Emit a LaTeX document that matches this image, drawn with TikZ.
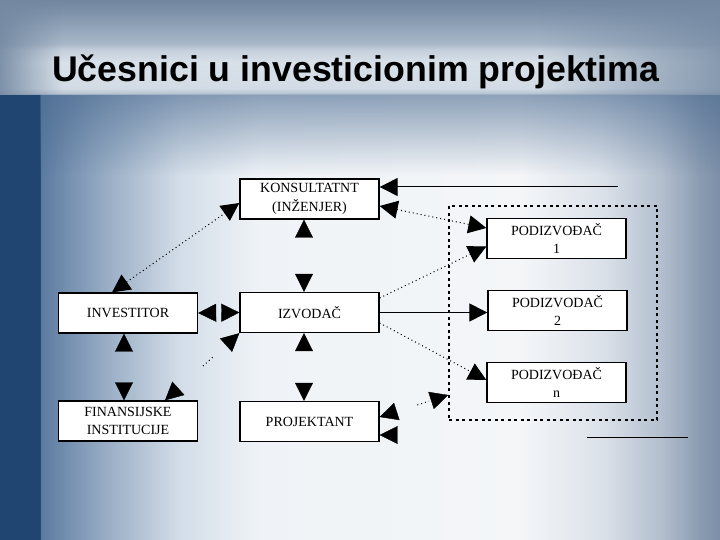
\documentclass[tikz,border=0pt]{standalone}
\usepackage{fontspec}
\setmainfont{Liberation Serif}
\newfontfamily\headfont{Liberation Sans}
\usetikzlibrary{arrows.meta,calc,fadings}
\definecolor{stripblue}{HTML}{1F4570}
\definecolor{bodyA}{HTML}{5B7AA0}
\definecolor{bodyB}{HTML}{93A9C2}
\definecolor{bodyC}{HTML}{D3DDE8}
\definecolor{bodyD}{HTML}{EFF3F7}
\definecolor{bodyE}{HTML}{F4F6F8}
\definecolor{bodyF}{HTML}{DCE2EA}
\definecolor{bodyG}{HTML}{B4C0CF}
\definecolor{bodyH}{HTML}{8A9BB1}
\definecolor{bodyI}{HTML}{7D8FA8}
\definecolor{hdA}{HTML}{8A9DB3}
\definecolor{hdB}{HTML}{B8C5D3}
\definecolor{hdC}{HTML}{D3DCE6}
\definecolor{hdD}{HTML}{D8E0E8}
\definecolor{hdE}{HTML}{C5D0DC}
\definecolor{hdF}{HTML}{A9B8C9}
\definecolor{hdG}{HTML}{93A5BA}
\definecolor{hdH}{HTML}{7E92AA}
\definecolor{hdI}{HTML}{72879F}
\definecolor{hdside}{HTML}{7489A2}
\definecolor{bandblue}{HTML}{4A6A90}
\pgfdeclarehorizontalshading{slidebody}{100bp}{color(0bp)=(stripblue); color(25bp)=(stripblue); color(27.78bp)=(stripblue); color(27.81bp)=(bodyA); color(31.94bp)=(bodyB); color(37.5bp)=(bodyC); color(43.06bp)=(bodyD); color(61.11bp)=(bodyE); color(66.67bp)=(bodyF); color(70.83bp)=(bodyG); color(73.61bp)=(bodyH); color(75bp)=(bodyI); color(100bp)=(bodyI)}
\pgfdeclareverticalshading{slidehead}{100bp}{color(0bp)=(hdA); color(25bp)=(hdA); color(26.05bp)=(hdB); color(28.68bp)=(hdC); color(42.37bp)=(hdD); color(48.68bp)=(hdE); color(51.84bp)=(hdF); color(60.26bp)=(hdG); color(68.68bp)=(hdH); color(75bp)=(hdI); color(100bp)=(hdI)}
\tikzfading[name=topsolid, top color=transparent!0, bottom color=transparent!100]
\tikzfading[name=leftsolid, left color=transparent!0, right color=transparent!100]
\tikzfading[name=rightsolid, left color=transparent!100, right color=transparent!0]
\newcommand\diagfont{\fontsize{14bp}{18.5bp}\selectfont}

\begin{document}
\begin{tikzpicture}[x=1bp,y=-1bp,
 box/.style={draw,fill=white,line width=1.3bp,minimum width=139bp,minimum height=40bp,align=center,inner sep=1bp,font=\diagfont},
 crewline/.style={draw,dash pattern=on 3bp off 3.5bp,line width=1.6bp,minimum width=208bp,minimum height=214bp},
 link/.style={line width=1bp},
 dotlink/.style={line width=1bp,dash pattern=on 1bp off 3bp},
 nolink/.style={dash pattern=on 0bp off 2000bp},
 head/.style={-{Triangle[length=18bp,width=18bp]}},
 heads/.style={{Triangle[length=18bp,width=18bp]}-{Triangle[length=18bp,width=18bp]}}]
\useasboundingbox (0,0) rectangle (720,540);
% slide backdrop
\shade[shading=slidebody] (0,95) rectangle (720,540);
\fill[bandblue,path fading=topsolid,fill opacity=.6] (40,95) rectangle (720,175);
\shade[shading=slidehead] (0,0) rectangle (720,95);
\fill[hdside,path fading=leftsolid,fill opacity=.9] (0,0) rectangle (62,95);
\fill[hdside,path fading=rightsolid,fill opacity=.8] (540,0) rectangle (720,95);
\node[anchor=base west,inner sep=0,font=\headfont\bfseries\fontsize{35.7bp}{40bp}\selectfont] (title) at (52,82) {Učesnici u investicionim projektima};

% participants
\node[box] (kons) at (309.5,199) {KONSULTATNT\\(INŽENJER)};
\node[box] (inv) at (128,313) {INVESTITOR};
\node[box] (izv) at (309.5,312.5) {IZVODAČ};
\node[box] (fin) at (128,421) {FINANSIJSKE\\INSTITUCIJE};
\node[box] (proj) at (309.5,421.5) {PROJEKTANT};
\node[crewline] (crew) at (553,313) {};
\node[box] (pod1) at (556.5,238.5) {PODIZVOĐAČ\\1};
\node[box] (pod2) at (557.5,310.5) {PODIZVODAČ\\2};
\node[box] (podn) at (556.5,382.5) {PODIZVOĐAČ\\n};

\coordinate (feed) at (618,187);
\coordinate (stray) at (420,435);
\coordinate (rule1) at (587,437);
\coordinate (rule2) at (688,437);
\coordinate (izvB) at (izv.south west);
\coordinate (finR) at ($(fin.north)+(37,0)$);
\coordinate (projA) at ($(proj.east)+(0,-4.5)$);
\coordinate (crewA) at ($(crew.west)+(0,82)$);

% links
\draw[dotlink,heads] ($(inv.north)+(-16,0)$) -- ($(kons.west)+(0,4)$);
\draw[heads,nolink] ($(kons.south)+(-5.5,0)$) -- ($(izv.north)+(-5.5,0)$);
\draw[heads,nolink] ($(izv.south)+(-5.5,0)$) -- ($(proj.north)+(-5.5,0)$);
\draw[heads,nolink] ($(inv.south)+(-4,0)$) -- ($(fin.north)+(-4,0)$);
\draw[heads,nolink] (inv.east) -- (izv.west);
\draw[heads,nolink] (izvB) -- (finR);
\draw[dotlink] ($(izvB)!.36!(finR)$) -- ($(izvB)!.49!(finR)$);
\draw[link,head] (feed) -- (feed -| kons.east);
\draw[dotlink,heads] ($(kons.east)+(0,7)$) -- ($(pod1.west)+(0,-10.5)$);
\draw[dotlink,head] ($(izv.east)+(0,-14.5)$) -- ($(pod1.west)+(0,8)$);
\draw[link,head] (izv.east) -- (izv.east -| pod2.west);
\draw[dotlink,head] ($(izv.east)+(0,10.5)$) -- ($(podn.west)+(0,-2.5)$);
\draw[heads,nolink] (projA) -- (crewA);
\draw[dotlink] ($(projA)!.55!(crewA)$) -- ($(projA)!.72!(crewA)$);
\draw[head,nolink] (stray) -- (stray -| proj.east);
\draw[link] (rule1) -- (rule2);
\end{tikzpicture}
\end{document}
